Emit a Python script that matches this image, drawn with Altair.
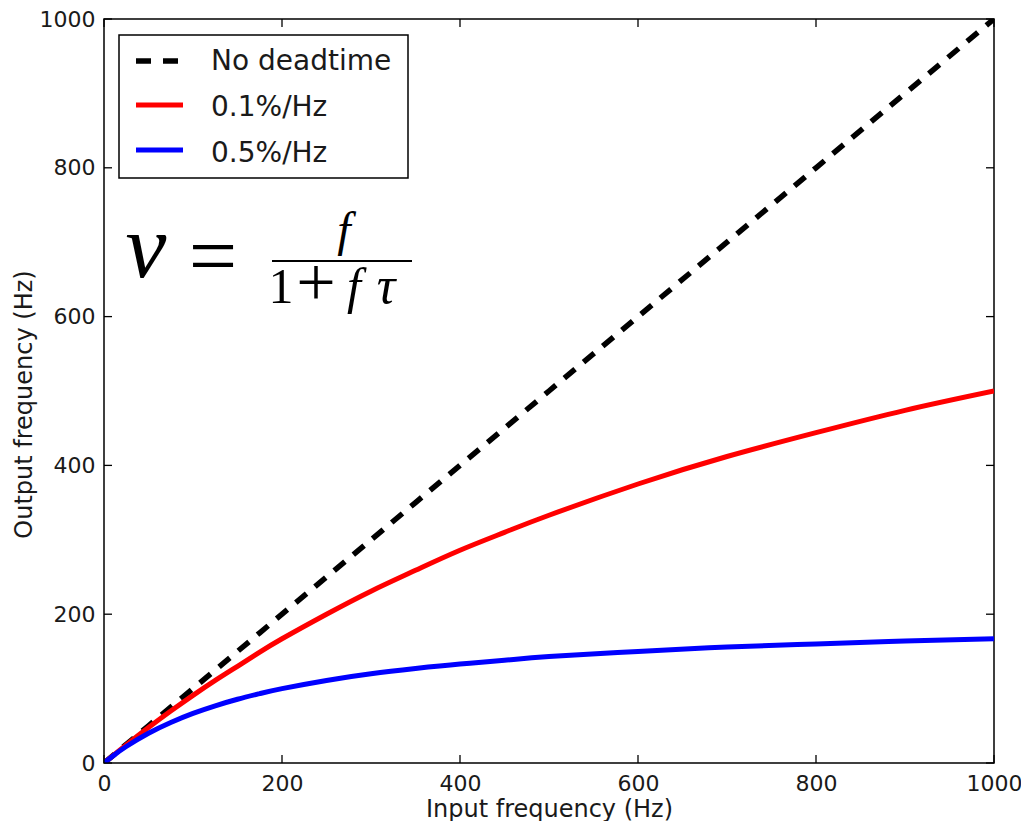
import altair as alt
import pandas as pd

# ---- data ----
input_freq = [0, 10, 25, 50, 75, 100, 125, 150, 175, 200, 250, 300, 350, 400, 450, 500, 600, 700, 800, 900, 1000]
no_deadtime = [0, 10, 25, 50, 75, 100, 125, 150, 175, 200, 250, 300, 350, 400, 450, 500, 600, 700, 800, 900, 1000]
tau_01 = [0, 9.9, 24.4, 47.6, 69.8, 90.9, 111, 130, 149, 167, 200, 231, 259, 286, 310, 333, 375, 412, 444, 474, 500]
tau_05 = [0, 9.5, 22.2, 40, 54.5, 66.7, 76.9, 85.7, 93.3, 100, 111, 120, 127, 133, 138, 143, 150, 156, 160, 164, 167]
series_names = ["No deadtime", "0.1%/Hz", "0.5%/Hz"]
series_colors = ["#000000", "#ff0000", "#0000ff"]
tick_values = [0, 200, 400, 600, 800, 1000]

W, H = 890, 744
FONT = "DejaVu Sans"
TXT = "#1a1a1a"

xscale = alt.Scale(domain=[0, 1000], nice=False, zero=False)
yscale = alt.Scale(domain=[0, 1000], nice=False, zero=False)

x_axis = alt.Axis(values=tick_values, format="d", title="Input frequency (Hz)", grid=False, ticks=False,
                  domain=False, labelFontSize=22, labelPadding=10, labelColor=TXT, labelFont=FONT,
                  titleFontSize=24, titleFont=FONT, titleFontWeight="normal", titleColor=TXT,
                  titleY=53, titleBaseline="alphabetic", labelFlush=False, labelOverlap=False)
y_axis = alt.Axis(values=tick_values, format="d", title="Output frequency (Hz)", grid=False, ticks=False,
                  domain=False, labelFontSize=22, labelPadding=9, labelColor=TXT, labelFont=FONT,
                  titleFontSize=24, titleFont=FONT, titleFontWeight="normal", titleColor=TXT,
                  titleX=-73, titleY=385, titleAngle=270, titleBaseline="alphabetic",
                  labelFlush=False, labelOverlap=False)

def series_df(vals):
    return pd.DataFrame({"x": input_freq, "y": vals})

dfs = [series_df(no_deadtime), series_df(tau_01), series_df(tau_05)]

black = alt.Chart(dfs[0]).mark_line(color=series_colors[0], strokeWidth=5.5, strokeDash=[14, 11],
                                    clip=True).encode(
    x=alt.X("x:Q", scale=xscale, axis=x_axis),
    y=alt.Y("y:Q", scale=yscale, axis=y_axis))
red = alt.Chart(dfs[1]).mark_line(color=series_colors[1], strokeWidth=5, interpolate="natural",
                                  clip=True).encode(x=alt.X("x:Q", scale=xscale), y=alt.Y("y:Q", scale=yscale))
blue = alt.Chart(dfs[2]).mark_line(color=series_colors[2], strokeWidth=5, interpolate="natural",
                                   clip=True).encode(x=alt.X("x:Q", scale=xscale), y=alt.Y("y:Q", scale=yscale))

# inward ticks on all four sides
tdf_x = pd.DataFrame({"x": tick_values})
tdf_y = pd.DataFrame({"y": tick_values})
TL = 8
tick_style = dict(color="#000000", strokeWidth=1.3)
ticks_bottom = alt.Chart(tdf_x).mark_rule(**tick_style).encode(
    x=alt.X("x:Q", scale=xscale), y=alt.value(H), y2=alt.value(H - TL))
ticks_top = alt.Chart(tdf_x).mark_rule(**tick_style).encode(
    x=alt.X("x:Q", scale=xscale), y=alt.value(0), y2=alt.value(TL))
ticks_left = alt.Chart(tdf_y).mark_rule(**tick_style).encode(
    y=alt.Y("y:Q", scale=yscale), x=alt.value(0), x2=alt.value(TL))
ticks_right = alt.Chart(tdf_y).mark_rule(**tick_style).encode(
    y=alt.Y("y:Q", scale=yscale), x=alt.value(W), x2=alt.value(W - TL))

# legend (drawn by hand, matplotlib style)
one = pd.DataFrame({"a": [0]})
legend_box = alt.Chart(one).mark_rect(fill="white", stroke="#000000", strokeWidth=1.5).encode(
    x=alt.value(15), x2=alt.value(304), y=alt.value(16), y2=alt.value(159))
legend_layers = [legend_box]
row_sym_y = [42, 86, 131]
row_txt_y = [51, 97, 142.5]
for i, name in enumerate(series_names):
    kw = dict(color=series_colors[i], strokeWidth=5.5 if i == 0 else 5)
    if i == 0:
        kw["strokeDash"] = [15, 12]
    legend_layers.append(alt.Chart(one).mark_rule(**kw).encode(
        x=alt.value(32), x2=alt.value(79), y=alt.value(row_sym_y[i])))
    legend_layers.append(alt.Chart(pd.DataFrame({"t": [name]})).mark_text(
        align="left", baseline="alphabetic", fontSize=28, font=FONT, color=TXT).encode(
        x=alt.value(107), y=alt.value(row_txt_y[i]), text="t:N"))

# formula  nu = f / (1 + f tau)
SERIF = "Liberation Serif"
def ftext(s, x, y, size, italic=True, align="center"):
    return alt.Chart(pd.DataFrame({"t": [s]})).mark_text(
        align=align, baseline="alphabetic", fontSize=size, font=SERIF,
        fontStyle="italic" if italic else "normal", color="#000000").encode(
        x=alt.value(x), y=alt.value(y), text="t:N")

formula = [
    ftext("ν", 42, 258, 92),
    ftext("=", 109, 266, 86, italic=False),
    alt.Chart(one).mark_rule(color="#000000", strokeWidth=2).encode(
        x=alt.value(168), x2=alt.value(308), y=alt.value(242)),
    ftext("f", 240, 227, 48),
    ftext("1", 177, 284, 50, italic=False),
    ftext("+", 212, 287, 70, italic=False),
    ftext("f", 250, 284, 50),
    ftext("τ", 282, 284, 52),
]

chart = alt.layer(
    black, red, blue, ticks_bottom, ticks_top, ticks_left, ticks_right,
    *legend_layers, *formula
).properties(
    width=W, height=H,
    autosize=alt.AutoSizeParams(type="none"),
    padding={"left": 96, "top": 11, "right": 27, "bottom": 58},
    background="white",
).configure_view(stroke="#000000", strokeWidth=1.5)

chart.save("out.html", embed_options={"renderer": "svg", "actions": False})
